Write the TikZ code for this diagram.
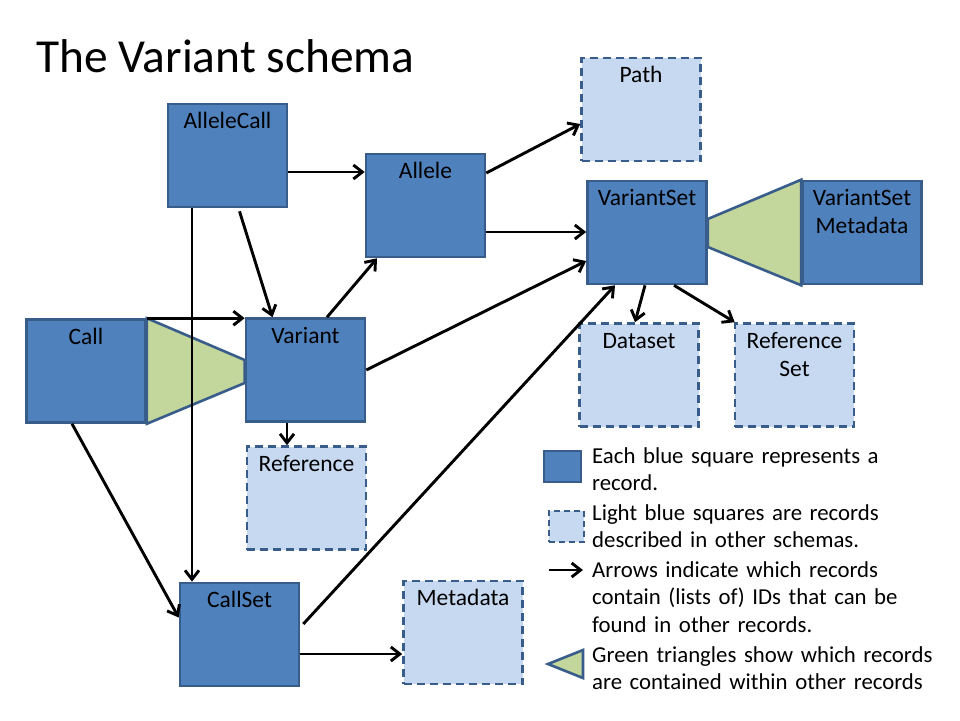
\documentclass[tikz,border=0pt]{standalone}
\usepackage{fontspec}
\setmainfont{Carlito}
\usepackage{tikz}
\usetikzlibrary{arrows.meta}
\definecolor{recfill}{RGB}{79,129,189}
\definecolor{recline}{RGB}{56,93,138}
\definecolor{extfill}{RGB}{198,217,241}
\definecolor{contfill}{RGB}{195,214,155}
\newcommand{\record}[5]{
	\node[#5] (#1) at (#2,#3) {}; % the box itself
	\node[reclabel] (#1-label) at ([yshift=-6.4pt]#1.north) {\strut#4}; % its name near the top
}

\begin{document}
\begin{tikzpicture}[x=1pt,y=-1pt,
	rec/.style={draw=recline, fill=recfill, line width=2.6pt, minimum width=119pt, minimum height=103pt, inner sep=0pt},
	ext/.style={rec, fill=extfill, dash pattern=on 8pt off 5pt},
	contain/.style={draw=recline, fill=contfill, line width=2.6pt},
	reclabel/.style={anchor=north, align=center, inner sep=0pt, font=\fontsize{23.5}{28}\selectfont},
	idarrow/.style={line width=2.9pt, -{Straight Barb[length=9pt,width=14pt]}},
	legend/.style={anchor=base west, text width=370pt, align=left, inner sep=0pt, font=\fontsize{22.8}{27.5}\selectfont}]
	\fill[white] (0,0) rectangle (960,720);
	\useasboundingbox (0,0) rectangle (960,720);
	
	\node[anchor=base west, inner sep=0pt, font=\fontsize{47.4}{56}\selectfont] (title) at (36,72) {The Variant schema};
	
	% the records
	\record{AlleleCall}{227.5}{155.5}{AlleleCall}{rec}
	\record{Allele}{425.5}{205.5}{Allele}{rec}
	\record{Path}{641}{109.5}{Path}{ext}
	\record{VariantSet}{647}{232.5}{VariantSet}{rec}
	\record{VSMeta}{862}{232.5}{VariantSet\\Metadata}{rec}
	\record{Call}{86}{371}{Call}{rec}
	\record{Variant}{305.5}{370}{Variant}{rec}
	\record{Reference}{306.5}{498}{Reference}{ext}
	\record{Dataset}{639}{375}{Dataset}{ext}
	\record{RefSet}{794.5}{375}{Reference\\Set}{ext}
	\record{CallSet}{239.5}{634.5}{CallSet}{rec}
	\record{Metadata}{463}{632.5}{Metadata}{ext}
	
	% contained records
	\draw[contain] (Call.north east) -- (Call.south east) -- ([yshift=-13pt]Variant.west) -- ([yshift=10pt]Variant.west) -- cycle;
	\draw[contain] ([yshift=13.5pt]VariantSet.east) -- (VSMeta.north west) -- (VSMeta.south west) -- ([yshift=-14.5pt]VariantSet.east) -- cycle;
	
	% references by ID
	\draw[idarrow] ([yshift=-16.5pt]AlleleCall.east) -- ([yshift=-16.5pt]AlleleCall.east -| Allele.west);
	\draw[idarrow] ([xshift=12pt,yshift=-3pt]AlleleCall.south) -- ([xshift=-33pt]Variant.north);
	\draw[idarrow] ([xshift=-35.5pt]AlleleCall.south) -- ([xshift=-35.5pt]AlleleCall.south |- CallSet.north);
	\draw[idarrow] (Call.north east) -- (Call.north east -| Variant.west);
	\draw[idarrow] ([xshift=-14pt]Call.south) -- ([yshift=17pt]CallSet.west);
	\draw[idarrow] ([xshift=21.5pt]Variant.north) -- ([xshift=-48.5pt]Allele.south);
	\draw[idarrow] (Variant.east) -- ([yshift=-28.5pt]VariantSet.west);
	\draw[idarrow] ([xshift=-18.5pt]Variant.south) -- ([xshift=-18.5pt]Variant.south |- Reference.north);
	\draw[idarrow] ([yshift=32.5pt]Allele.east) -- ([yshift=-14.5pt]Path.west);
	\draw[idarrow] ([yshift=-26.5pt]Allele.east) -- ([yshift=-26.5pt]Allele.east -| VariantSet.west);
	\draw[idarrow] ([xshift=3pt,yshift=10.5pt]CallSet.east) -- ([xshift=-32pt]VariantSet.south);
	\draw[idarrow] ([xshift=-2pt]VariantSet.south) -- ([xshift=-4pt]Dataset.north);
	\draw[idarrow] ([xshift=27pt]VariantSet.south) -- ([xshift=1pt]RefSet.north west);
	\draw[idarrow] ([yshift=-19.5pt]CallSet.east) -- ([yshift=-19.5pt]CallSet.east -| Metadata.west);
	
	% legend
	\node[rec, minimum width=37pt, minimum height=31pt] (legRec) at (562.5,466.5) {};
	\node[ext, minimum width=35pt, minimum height=31pt, dash pattern=on 6pt off 4pt] (legExt) at (566.5,526.5) {};
	\coordinate (legA) at (549,570);
	\coordinate (legB) at (583,570);
	\draw[idarrow] (legA) -- (legB);
	\draw[contain] (548,664) -- (583,650) -- (583,678) -- cycle;
	\node[legend] (legText1) at (592,463) {Each blue square represents a\\record.};
	\node[legend] (legText2) at (592,520) {Light blue squares are records\\described in other schemas.};
	\node[legend] (legText3) at (592,577) {Arrows indicate which records\\contain (lists of) IDs that can be\\found in other records.};
	\node[legend] (legText4) at (592,662) {Green triangles show which records\\are contained within other records};
\end{tikzpicture}
\end{document}
